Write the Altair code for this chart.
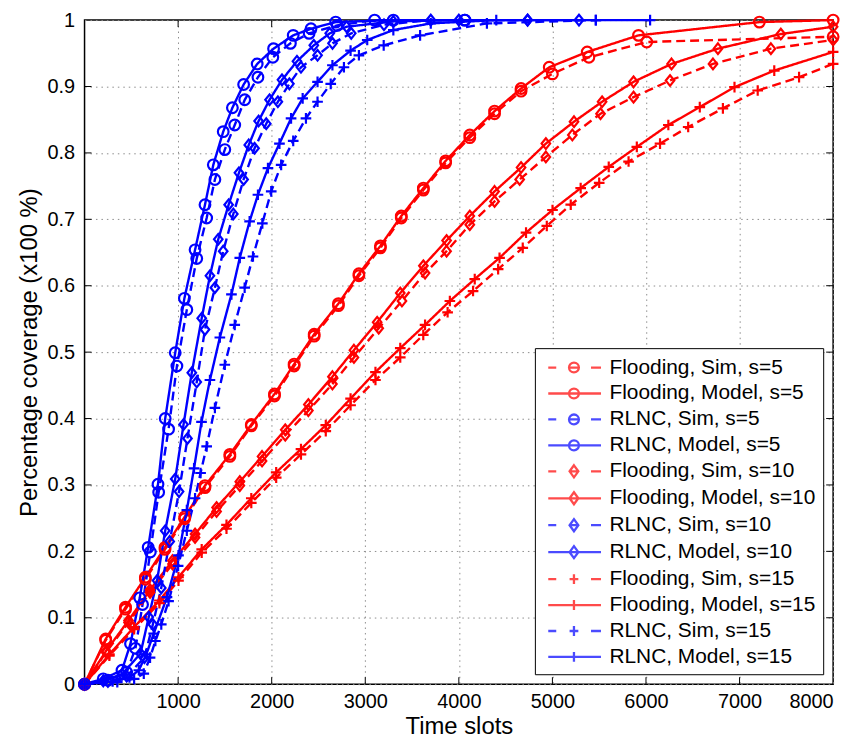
import altair as alt
import pandas as pd

# ---------------- data ----------------
SERIES = [
    "Flooding, Sim, s=5", "Flooding, Model, s=5", "RLNC, Sim, s=5", "RLNC, Model, s=5",
    "Flooding, Sim, s=10", "Flooding, Model, s=10", "RLNC, Sim, s=10", "RLNC, Model, s=10",
    "Flooding, Sim, s=15", "Flooding, Model, s=15", "RLNC, Sim, s=15", "RLNC, Model, s=15",
]

F_S5_T = [0, 226, 438, 650, 860, 1070, 1287, 1553, 1782, 2030, 2240, 2454, 2713, 2932, 3162, 3385, 3621, 3859, 4117, 4382, 4665, 5000, 5390, 6008, 8000]
F_S5_V = [0, 0.066, 0.113, 0.158, 0.203, 0.249, 0.296, 0.343, 0.389, 0.434, 0.479, 0.524, 0.570, 0.615, 0.657, 0.702, 0.744, 0.785, 0.823, 0.859, 0.893, 0.919, 0.944, 0.967, 0.975]
F_M5_T = [0, 226, 438, 650, 860, 1070, 1287, 1553, 1782, 2030, 2240, 2454, 2713, 2932, 3162, 3385, 3621, 3859, 4117, 4382, 4665, 4966, 5372, 5920, 7212, 8000]
F_M5_V = [0, 0.068, 0.116, 0.161, 0.206, 0.252, 0.299, 0.346, 0.391, 0.437, 0.482, 0.527, 0.573, 0.618, 0.660, 0.705, 0.747, 0.788, 0.827, 0.863, 0.897, 0.929, 0.952, 0.977, 0.997, 1.0]
B_S5_T = [0, 250, 450, 544, 620, 703, 792, 898, 987, 1093, 1199, 1305, 1393, 1499, 1605, 1712, 1853, 2012, 2200, 2400, 2700, 3100, 4064]
B_S5_V = [0, 0.006, 0.018, 0.054, 0.12, 0.199, 0.289, 0.384, 0.479, 0.564, 0.641, 0.702, 0.76, 0.805, 0.842, 0.88, 0.914, 0.944, 0.965, 0.98, 0.992, 1.0, 1.0]
B_M5_T = [0, 200, 400, 491, 590, 680, 785, 862, 969, 1067, 1181, 1287, 1376, 1482, 1580, 1700, 1845, 2020, 2230, 2420, 2684, 3300, 4064]
B_M5_V = [0, 0.008, 0.021, 0.061, 0.13, 0.206, 0.301, 0.400, 0.499, 0.581, 0.654, 0.722, 0.782, 0.832, 0.868, 0.903, 0.934, 0.957, 0.977, 0.987, 0.997, 1.0, 1.0]

F_S10_T = [0, 230, 470, 700, 940, 1181, 1411, 1659, 1897, 2145, 2392, 2649, 2879, 3144, 3392, 3639, 3869, 4117, 4382, 4650, 4930, 5213, 5514, 5867, 6257, 6716, 7335, 8000]
F_S10_V = [0, 0.048, 0.093, 0.138, 0.181, 0.221, 0.26, 0.299, 0.336, 0.375, 0.412, 0.452, 0.492, 0.536, 0.577, 0.619, 0.652, 0.692, 0.727, 0.76, 0.794, 0.827, 0.859, 0.884, 0.909, 0.934, 0.957, 0.97]
F_M10_T = [0, 230, 470, 700, 940, 1181, 1411, 1659, 1897, 2145, 2392, 2649, 2879, 3127, 3374, 3621, 3869, 4117, 4382, 4665, 4930, 5231, 5531, 5867, 6273, 6769, 7441, 8000]
F_M10_V = [0, 0.05, 0.096, 0.142, 0.186, 0.226, 0.266, 0.305, 0.343, 0.383, 0.421, 0.463, 0.503, 0.545, 0.589, 0.630, 0.668, 0.705, 0.742, 0.778, 0.814, 0.847, 0.877, 0.907, 0.934, 0.957, 0.979, 0.99]
B_S10_T = [0, 250, 450, 640, 730, 820, 910, 1010, 1100, 1199, 1287, 1393, 1482, 1590, 1700, 1817, 1942, 2066, 2189, 2313, 2490, 2650, 2850, 3200, 3700, 4735]
B_S10_V = [0, 0.004, 0.012, 0.04, 0.09, 0.145, 0.215, 0.29, 0.37, 0.455, 0.534, 0.597, 0.652, 0.708, 0.76, 0.807, 0.844, 0.877, 0.904, 0.929, 0.947, 0.965, 0.98, 0.993, 1.0, 1.0]
B_M10_T = [0, 200, 400, 598, 686, 775, 862, 969, 1058, 1146, 1252, 1340, 1429, 1540, 1650, 1755, 1860, 1977, 2110, 2270, 2450, 2620, 2800, 3300, 4000, 4735, 5284]
B_M10_V = [0, 0.005, 0.015, 0.046, 0.101, 0.156, 0.231, 0.309, 0.391, 0.469, 0.551, 0.615, 0.67, 0.722, 0.77, 0.812, 0.848, 0.88, 0.91, 0.938, 0.962, 0.98, 0.99, 0.998, 1.0, 1.0, 1.0]

F_S15_T = [0, 265, 530, 800, 1004, 1252, 1517, 1782, 2048, 2313, 2578, 2843, 3109, 3374, 3620, 3880, 4152, 4420, 4683, 4940, 5196, 5500, 5814, 6150, 6451, 6822, 7194, 7636, 8000]
F_S15_V = [0, 0.043, 0.083, 0.122, 0.156, 0.198, 0.234, 0.273, 0.311, 0.346, 0.381, 0.42, 0.458, 0.492, 0.526, 0.56, 0.592, 0.625, 0.657, 0.69, 0.722, 0.755, 0.787, 0.814, 0.839, 0.867, 0.894, 0.914, 0.934]
F_M15_T = [0, 265, 530, 800, 1004, 1252, 1517, 1782, 2048, 2313, 2578, 2843, 3109, 3374, 3639, 3904, 4170, 4435, 4718, 5001, 5302, 5602, 5902, 6239, 6575, 6946, 7371, 8000]
F_M15_V = [0, 0.045, 0.086, 0.126, 0.161, 0.203, 0.24, 0.28, 0.319, 0.354, 0.39, 0.43, 0.47, 0.506, 0.541, 0.577, 0.610, 0.642, 0.680, 0.714, 0.747, 0.779, 0.809, 0.842, 0.869, 0.899, 0.924, 0.952]
B_S15_T = [0, 350, 530, 633, 700, 757, 820, 898, 1000, 1093, 1181, 1240, 1305, 1393, 1499, 1605, 1711, 1800, 1900, 1995, 2101, 2230, 2366, 2490, 2631, 2772, 2932, 3197, 3586, 4300, 5464]
B_S15_V = [0, 0.003, 0.008, 0.016, 0.04, 0.065, 0.09, 0.125, 0.178, 0.231, 0.28, 0.318, 0.358, 0.416, 0.481, 0.541, 0.597, 0.644, 0.694, 0.742, 0.782, 0.818, 0.852, 0.877, 0.904, 0.929, 0.947, 0.962, 0.977, 0.995, 1.0]
B_M15_T = [0, 300, 480, 580, 660, 739, 881, 1004, 1093, 1170, 1250, 1340, 1446, 1570, 1659, 1764, 1853, 1960, 2083, 2207, 2331, 2490, 2649, 2843, 3021, 3300, 3700, 4400, 5464, 6044]
B_M15_V = [0, 0.004, 0.01, 0.021, 0.045, 0.076, 0.131, 0.194, 0.262, 0.325, 0.395, 0.458, 0.522, 0.587, 0.642, 0.697, 0.737, 0.777, 0.814, 0.852, 0.882, 0.907, 0.932, 0.954, 0.970, 0.985, 0.995, 1.0, 1.0, 1.0]

SERIES_DATA = [
    (F_S5_T, F_S5_V), (F_M5_T, F_M5_V), (B_S5_T, B_S5_V), (B_M5_T, B_M5_V),
    (F_S10_T, F_S10_V), (F_M10_T, F_M10_V), (B_S10_T, B_S10_V), (B_M10_T, B_M10_V),
    (F_S15_T, F_S15_V), (F_M15_T, F_M15_V), (B_S15_T, B_S15_V), (B_M15_T, B_M15_V),
]

X_TICKS = [1000, 2000, 3000, 4000, 5000, 6000, 7000, 8000]
Y_TICKS = [0, 0.1, 0.2, 0.3, 0.4, 0.5, 0.6, 0.7, 0.8, 0.9, 1]

# ---------------- styles ----------------
RED, BLUE = "#ff0000", "#0000ff"
COLORS = [RED, RED, BLUE, BLUE] * 3
DASHES = [[9, 5], [1, 0]] * 6

CIRCLE = "circle"
DIAMOND = "M0,-1L0.8,0L0,1L-0.8,0Z"
PLUS = "M-1,0H1M0,-1V1"
MARKERS = [CIRCLE] * 4 + [DIAMOND] * 4 + [PLUS] * 4

# legend symbols: line (solid or dashed) with the marker drawn on it
SOLID_LINE = "M-0.55,0H4.27"
DASH_LINE = "M-0.55,0H0.18M1.4,0H2.2M3.36,0H4.27"
LEG_CIRCLE = "M2.25,0A0.45,0.45,0,1,1,1.35,0A0.45,0.45,0,1,1,2.25,0"
LEG_DIAMOND = "M1.8,-0.55L2.2,0L1.8,0.55L1.4,0Z"
LEG_PLUS = "M1.8,-0.45V0.45"
LEG_MARK = [LEG_CIRCLE] * 4 + [LEG_DIAMOND] * 4 + [LEG_PLUS] * 4
LEG_LINE = [DASH_LINE, SOLID_LINE] * 6
LEGEND_PATHS = [l + m for l, m in zip(LEG_LINE, LEG_MARK)]

rows = []
for k, (name, (ts, vs)) in enumerate(zip(SERIES, SERIES_DATA)):
    for i, (t, v) in enumerate(zip(ts, vs)):
        rows.append({"series": name, "ord": k, "i": i, "t": t, "v": v})
df = pd.DataFrame(rows)

FONT = "Liberation Sans"

xscale = alt.Scale(domain=[0, 8000], nice=False, zero=False)
yscale = alt.Scale(domain=[0, 1], nice=False)
xaxis = alt.Axis(values=X_TICKS, format="d", title="Time slots", labelPadding=7,
                 titlePadding=4, grid=True)
yaxis = alt.Axis(values=Y_TICKS, format="~g", title="Percentage coverage (x100 %)",
                 labelPadding=10, titlePadding=6, grid=True)
X = alt.X("t:Q", scale=xscale, axis=xaxis)
Y = alt.Y("v:Q", scale=yscale, axis=yaxis)

color_scale = alt.Scale(domain=SERIES, range=COLORS)

lines = alt.Chart(df).mark_line(strokeWidth=2.4).encode(
    x=X, y=Y,
    color=alt.Color("series:N", scale=color_scale, legend=None),
    strokeDash=alt.StrokeDash("series:N", scale=alt.Scale(domain=SERIES, range=DASHES), legend=None),
    detail="ord:O",
    order="i:Q",
)

points = alt.Chart(df).mark_point(filled=False, strokeWidth=2.2, size=115, opacity=1).encode(
    x=X, y=Y,
    color=alt.Color("series:N", scale=color_scale, legend=None),
    shape=alt.Shape("series:N", scale=alt.Scale(domain=SERIES, range=MARKERS), legend=None),
)

legend_spec = alt.Legend(
    title=None, orient="bottom-right", offset=10,
    symbolSize=484, symbolStrokeWidth=2.3, labelOffset=43,
    labelFont=FONT, labelFontSize=21, labelColor="black", labelLimit=400,
    rowPadding=3.1, padding=7, fillColor="white", strokeColor="black",
    cornerRadius=0,
)
legend_layer = alt.Chart(df).transform_filter("datum.t < 0").mark_point(
    filled=False, strokeWidth=2.3
).encode(
    x=X, y=Y,
    color=alt.Color("series:N", scale=alt.Scale(domain=SERIES, range=COLORS), legend=legend_spec),
    shape=alt.Shape("series:N", scale=alt.Scale(domain=SERIES, range=LEGEND_PATHS), legend=legend_spec),
)

# inward MATLAB-style ticks on all four sides
xt = pd.DataFrame({"t": X_TICKS[:-1]})
yt = pd.DataFrame({"v": Y_TICKS[1:-1]})
tick_bottom = alt.Chart(xt).mark_rule(color="black", strokeWidth=1).encode(
    x=X, y=alt.value("height"), y2=alt.value({"expr": "height - 7"}))
tick_top = alt.Chart(xt).mark_rule(color="black", strokeWidth=1).encode(
    x=X, y=alt.value(0), y2=alt.value(7))
tick_left = alt.Chart(yt).mark_rule(color="black", strokeWidth=1).encode(
    y=Y, x=alt.value(0), x2=alt.value(7))
tick_right = alt.Chart(yt).mark_rule(color="black", strokeWidth=1).encode(
    y=Y, x=alt.value("width"), x2=alt.value({"expr": "width - 7"}))

chart = alt.layer(
    tick_bottom, tick_top, tick_left, tick_right, lines, points, legend_layer
).resolve_scale(
    color="independent", shape="independent", strokeDash="independent"
).properties(
    width=852, height=733,
    autosize=alt.AutoSizeParams(type="fit", contains="padding"),
    padding={"left": 9, "top": 0, "right": 12, "bottom": 0},
    background="white",
).configure_axis(
    labelFont=FONT, labelFontSize=20, labelColor="black",
    titleFont=FONT, titleFontSize=24, titleFontWeight="normal", titleColor="black",
    ticks=False, domain=False,
    gridColor="#8c8c8c", gridDash=[1.5, 4], gridWidth=1, gridOpacity=1,
).configure_view(
    stroke="black", strokeWidth=1.5,
)

chart.save("out.html", embed_options={"renderer": "svg", "actions": False})
